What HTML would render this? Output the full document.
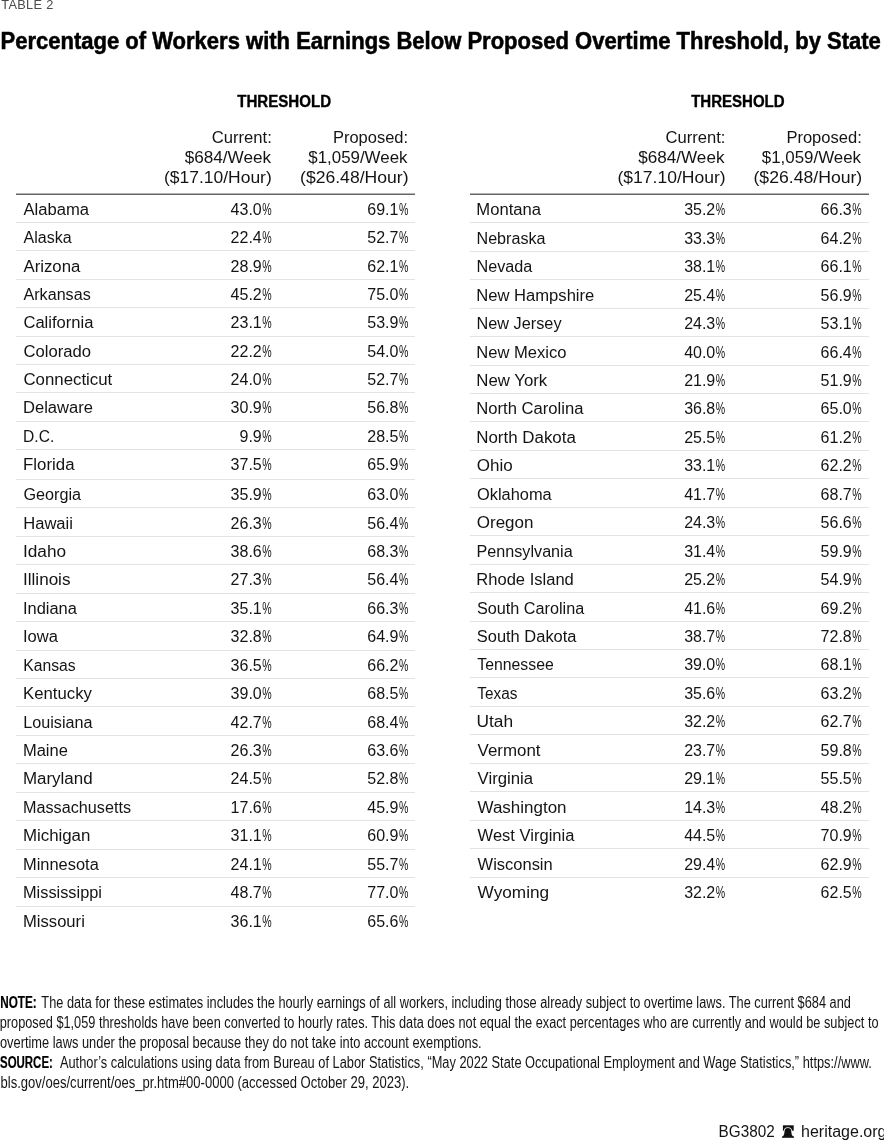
<!DOCTYPE html>
<html lang="en">
<head>
<meta charset="utf-8">
<title>Table 2: Percentage of Workers with Earnings Below Proposed Overtime Threshold, by State</title>
<style>
html,body{margin:0;padding:0;background:#fff}
body{width:884px;height:1140px;position:relative;overflow:hidden;font-family:"Liberation Sans",Arial,sans-serif;color:#141414}
.t{position:absolute;white-space:nowrap;line-height:1;margin:0;padding:0;font-weight:400}
.l{transform-origin:0 0}
.r{transform-origin:100% 0}
.title{-webkit-text-stroke:.55px #000}
.th{-webkit-text-stroke:.35px #000}
.nb{-webkit-text-stroke:.2px #000}
.nm i{font-style:normal;display:inline-block;transform:scaleX(.66);transform-origin:100% 50%;margin-left:-4.6px}
.hr{position:absolute;height:2px;background:linear-gradient(to bottom,#b2b2b2 0,#b2b2b2 50%,#646464 50%,#646464 100%)}
.rl{position:absolute;height:1px;background:#e3e3e3}

</style>
</head>
<body>
<div class="hr" style="left:16.0px;top:193px;width:399.0px"></div>
<div class="rl" style="left:16.0px;top:221.98px;width:399.0px"></div>
<div class="rl" style="left:16.0px;top:250.36px;width:399.0px"></div>
<div class="rl" style="left:16.0px;top:278.74px;width:399.0px"></div>
<div class="rl" style="left:16.0px;top:307.12px;width:399.0px"></div>
<div class="rl" style="left:16.0px;top:335.50px;width:399.0px"></div>
<div class="rl" style="left:16.0px;top:363.88px;width:399.0px"></div>
<div class="rl" style="left:16.0px;top:392.26px;width:399.0px"></div>
<div class="rl" style="left:16.0px;top:420.64px;width:399.0px"></div>
<div class="rl" style="left:16.0px;top:449.02px;width:399.0px"></div>
<div class="rl" style="left:16.0px;top:478.90px;width:399.0px"></div>
<div class="rl" style="left:16.0px;top:507.34px;width:399.0px"></div>
<div class="rl" style="left:16.0px;top:535.78px;width:399.0px"></div>
<div class="rl" style="left:16.0px;top:564.22px;width:399.0px"></div>
<div class="rl" style="left:16.0px;top:592.66px;width:399.0px"></div>
<div class="rl" style="left:16.0px;top:621.10px;width:399.0px"></div>
<div class="rl" style="left:16.0px;top:649.54px;width:399.0px"></div>
<div class="rl" style="left:16.0px;top:677.98px;width:399.0px"></div>
<div class="rl" style="left:16.0px;top:706.42px;width:399.0px"></div>
<div class="rl" style="left:16.0px;top:734.86px;width:399.0px"></div>
<div class="rl" style="left:16.0px;top:763.30px;width:399.0px"></div>
<div class="rl" style="left:16.0px;top:791.74px;width:399.0px"></div>
<div class="rl" style="left:16.0px;top:820.18px;width:399.0px"></div>
<div class="rl" style="left:16.0px;top:848.62px;width:399.0px"></div>
<div class="rl" style="left:16.0px;top:877.06px;width:399.0px"></div>
<div class="rl" style="left:16.0px;top:905.50px;width:399.0px"></div>
<div class="hr" style="left:469.8px;top:193px;width:398.8px"></div>
<div class="rl" style="left:469.8px;top:222.25px;width:398.8px"></div>
<div class="rl" style="left:469.8px;top:250.70px;width:398.8px"></div>
<div class="rl" style="left:469.8px;top:279.15px;width:398.8px"></div>
<div class="rl" style="left:469.8px;top:307.60px;width:398.8px"></div>
<div class="rl" style="left:469.8px;top:336.05px;width:398.8px"></div>
<div class="rl" style="left:469.8px;top:364.50px;width:398.8px"></div>
<div class="rl" style="left:469.8px;top:392.95px;width:398.8px"></div>
<div class="rl" style="left:469.8px;top:421.40px;width:398.8px"></div>
<div class="rl" style="left:469.8px;top:449.85px;width:398.8px"></div>
<div class="rl" style="left:469.8px;top:478.30px;width:398.8px"></div>
<div class="rl" style="left:469.8px;top:506.75px;width:398.8px"></div>
<div class="rl" style="left:469.8px;top:535.20px;width:398.8px"></div>
<div class="rl" style="left:469.8px;top:563.65px;width:398.8px"></div>
<div class="rl" style="left:469.8px;top:592.10px;width:398.8px"></div>
<div class="rl" style="left:469.8px;top:620.55px;width:398.8px"></div>
<div class="rl" style="left:469.8px;top:649.00px;width:398.8px"></div>
<div class="rl" style="left:469.8px;top:677.45px;width:398.8px"></div>
<div class="rl" style="left:469.8px;top:705.90px;width:398.8px"></div>
<div class="rl" style="left:469.8px;top:734.35px;width:398.8px"></div>
<div class="rl" style="left:469.8px;top:762.80px;width:398.8px"></div>
<div class="rl" style="left:469.8px;top:791.25px;width:398.8px"></div>
<div class="rl" style="left:469.8px;top:819.70px;width:398.8px"></div>
<div class="rl" style="left:469.8px;top:848.15px;width:398.8px"></div>
<div class="rl" style="left:469.8px;top:876.60px;width:398.8px"></div>
<div class="t kicker l" style="top:-2px;font-size:13px;color:#4a4a4a;letter-spacing:0.3px;left:1px;transform:translateX(0.35px) scaleX(0.9816);">TABLE 2</div>
<div class="t title l" style="top:29px;font-size:24px;font-weight:700;color:#000;left:0px;transform:translateX(0.51px) scaleX(0.9172);">Percentage of Workers with Earnings Below Proposed Overtime Threshold, by State</div>
<div class="t th l" style="top:94px;font-size:16px;font-weight:700;color:#000;left:237px;transform:translateX(0.18px) scaleX(0.9428);">THRESHOLD</div>
<div class="t ch r" style="top:130px;font-size:16px;right:613px;transform:translateX(0.95px) scaleX(1.0393);">Current:</div>
<div class="t ch r" style="top:150px;font-size:16px;right:613px;transform:translateX(0.42px) scaleX(1.0710);">$684/Week</div>
<div class="t ch r" style="top:170px;font-size:16px;right:612px;transform:translateX(0.03px) scaleX(1.0913);">($17.10/Hour)</div>
<div class="t ch r" style="top:130px;font-size:16px;right:476px;transform:translateX(0.09px) scaleX(1.0291);">Proposed:</div>
<div class="t ch r" style="top:150px;font-size:16px;right:477px;transform:translateX(0.47px) scaleX(1.0550);">$1,059/Week</div>
<div class="t ch r" style="top:170px;font-size:16px;right:476px;transform:translateX(0.80px) scaleX(1.0987);">($26.48/Hour)</div>
<div class="t st l" style="top:202px;font-size:16px;left:23px;transform:translateX(0.50px) scaleX(1.0382);">Alabama</div>
<div class="t nm r" style="top:202px;font-size:16px;right:613px;transform:translateX(0.37px);">43.0<i>%</i></div>
<div class="t nm r" style="top:202px;font-size:16px;right:476px;transform:translateX(0.09px);">69.1<i>%</i></div>
<div class="t st l" style="top:230px;font-size:16px;left:23px;transform:translateX(0.50px) scaleX(1.0013);">Alaska</div>
<div class="t nm r" style="top:230px;font-size:16px;right:613px;transform:translateX(0.37px);">22.4<i>%</i></div>
<div class="t nm r" style="top:230px;font-size:16px;right:476px;transform:translateX(0.09px);">52.7<i>%</i></div>
<div class="t st l" style="top:259px;font-size:16px;left:23px;transform:translateX(0.50px) scaleX(1.0477);">Arizona</div>
<div class="t nm r" style="top:259px;font-size:16px;right:613px;transform:translateX(0.37px);">28.9<i>%</i></div>
<div class="t nm r" style="top:259px;font-size:16px;right:476px;transform:translateX(0.09px);">62.1<i>%</i></div>
<div class="t st l" style="top:287px;font-size:16px;left:23px;transform:translateX(0.50px) scaleX(1.0074);">Arkansas</div>
<div class="t nm r" style="top:287px;font-size:16px;right:613px;transform:translateX(0.37px);">45.2<i>%</i></div>
<div class="t nm r" style="top:287px;font-size:16px;right:476px;transform:translateX(0.09px);">75.0<i>%</i></div>
<div class="t st l" style="top:315px;font-size:16px;left:23px;transform:translateX(0.41px) scaleX(1.0365);">California</div>
<div class="t nm r" style="top:315px;font-size:16px;right:613px;transform:translateX(0.37px);">23.1<i>%</i></div>
<div class="t nm r" style="top:315px;font-size:16px;right:476px;transform:translateX(0.09px);">53.9<i>%</i></div>
<div class="t st l" style="top:344px;font-size:16px;left:23px;transform:translateX(0.46px) scaleX(1.0398);">Colorado</div>
<div class="t nm r" style="top:344px;font-size:16px;right:613px;transform:translateX(0.37px);">22.2<i>%</i></div>
<div class="t nm r" style="top:344px;font-size:16px;right:476px;transform:translateX(0.09px);">54.0<i>%</i></div>
<div class="t st l" style="top:372px;font-size:16px;left:23px;transform:translateX(0.45px) scaleX(1.0515);">Connecticut</div>
<div class="t nm r" style="top:372px;font-size:16px;right:613px;transform:translateX(0.37px);">24.0<i>%</i></div>
<div class="t nm r" style="top:372px;font-size:16px;right:476px;transform:translateX(0.09px);">52.7<i>%</i></div>
<div class="t st l" style="top:400px;font-size:16px;left:22px;transform:translateX(0.98px) scaleX(1.0354);">Delaware</div>
<div class="t nm r" style="top:400px;font-size:16px;right:613px;transform:translateX(0.37px);">30.9<i>%</i></div>
<div class="t nm r" style="top:400px;font-size:16px;right:476px;transform:translateX(0.09px);">56.8<i>%</i></div>
<div class="t st l" style="top:429px;font-size:16px;left:23px;transform:translateX(0.06px) scaleX(0.9734);">D.C.</div>
<div class="t nm r" style="top:429px;font-size:16px;right:613px;transform:translateX(0.37px);">9.9<i>%</i></div>
<div class="t nm r" style="top:429px;font-size:16px;right:476px;transform:translateX(0.09px);">28.5<i>%</i></div>
<div class="t st l" style="top:457px;font-size:16px;left:23px;transform:translateX(0.09px) scaleX(1.0510);">Florida</div>
<div class="t nm r" style="top:457px;font-size:16px;right:613px;transform:translateX(0.37px);">37.5<i>%</i></div>
<div class="t nm r" style="top:457px;font-size:16px;right:476px;transform:translateX(0.09px);">65.9<i>%</i></div>
<div class="t st l" style="top:487px;font-size:16px;left:23px;transform:translateX(0.48px) scaleX(1.0115);">Georgia</div>
<div class="t nm r" style="top:487px;font-size:16px;right:613px;transform:translateX(0.37px);">35.9<i>%</i></div>
<div class="t nm r" style="top:487px;font-size:16px;right:476px;transform:translateX(0.09px);">63.0<i>%</i></div>
<div class="t st l" style="top:516px;font-size:16px;left:23px;transform:translateX(0.25px) scaleX(1.0348);">Hawaii</div>
<div class="t nm r" style="top:516px;font-size:16px;right:613px;transform:translateX(0.37px);">26.3<i>%</i></div>
<div class="t nm r" style="top:516px;font-size:16px;right:476px;transform:translateX(0.09px);">56.4<i>%</i></div>
<div class="t st l" style="top:544px;font-size:16px;left:22px;transform:translateX(0.98px) scaleX(1.0761);">Idaho</div>
<div class="t nm r" style="top:544px;font-size:16px;right:613px;transform:translateX(0.37px);">38.6<i>%</i></div>
<div class="t nm r" style="top:544px;font-size:16px;right:476px;transform:translateX(0.09px);">68.3<i>%</i></div>
<div class="t st l" style="top:572px;font-size:16px;left:23px;transform:translateX(0.01px) scaleX(1.0671);">Illinois</div>
<div class="t nm r" style="top:572px;font-size:16px;right:613px;transform:translateX(0.37px);">27.3<i>%</i></div>
<div class="t nm r" style="top:572px;font-size:16px;right:476px;transform:translateX(0.09px);">56.4<i>%</i></div>
<div class="t st l" style="top:601px;font-size:16px;left:22px;transform:translateX(0.97px) scaleX(1.0274);">Indiana</div>
<div class="t nm r" style="top:601px;font-size:16px;right:613px;transform:translateX(0.37px);">35.1<i>%</i></div>
<div class="t nm r" style="top:601px;font-size:16px;right:476px;transform:translateX(0.09px);">66.3<i>%</i></div>
<div class="t st l" style="top:629px;font-size:16px;left:22px;transform:translateX(0.95px) scaleX(1.0344);">Iowa</div>
<div class="t nm r" style="top:629px;font-size:16px;right:613px;transform:translateX(0.37px);">32.8<i>%</i></div>
<div class="t nm r" style="top:629px;font-size:16px;right:476px;transform:translateX(0.09px);">64.9<i>%</i></div>
<div class="t st l" style="top:658px;font-size:16px;left:23px;transform:translateX(0.31px) scaleX(0.9810);">Kansas</div>
<div class="t nm r" style="top:658px;font-size:16px;right:613px;transform:translateX(0.37px);">36.5<i>%</i></div>
<div class="t nm r" style="top:658px;font-size:16px;right:476px;transform:translateX(0.09px);">66.2<i>%</i></div>
<div class="t st l" style="top:686px;font-size:16px;left:23px;transform:translateX(0.12px) scaleX(1.0451);">Kentucky</div>
<div class="t nm r" style="top:686px;font-size:16px;right:613px;transform:translateX(0.37px);">39.0<i>%</i></div>
<div class="t nm r" style="top:686px;font-size:16px;right:476px;transform:translateX(0.09px);">68.5<i>%</i></div>
<div class="t st l" style="top:715px;font-size:16px;left:23px;transform:translateX(0.23px) scaleX(1.0109);">Louisiana</div>
<div class="t nm r" style="top:715px;font-size:16px;right:613px;transform:translateX(0.37px);">42.7<i>%</i></div>
<div class="t nm r" style="top:715px;font-size:16px;right:476px;transform:translateX(0.09px);">68.4<i>%</i></div>
<div class="t st l" style="top:743px;font-size:16px;left:22px;transform:translateX(0.93px) scaleX(1.0320);">Maine</div>
<div class="t nm r" style="top:743px;font-size:16px;right:613px;transform:translateX(0.37px);">26.3<i>%</i></div>
<div class="t nm r" style="top:743px;font-size:16px;right:476px;transform:translateX(0.09px);">63.6<i>%</i></div>
<div class="t st l" style="top:771px;font-size:16px;left:22px;transform:translateX(0.90px) scaleX(1.0586);">Maryland</div>
<div class="t nm r" style="top:771px;font-size:16px;right:613px;transform:translateX(0.37px);">24.5<i>%</i></div>
<div class="t nm r" style="top:771px;font-size:16px;right:476px;transform:translateX(0.09px);">52.8<i>%</i></div>
<div class="t st l" style="top:800px;font-size:16px;left:23px;transform:translateX(0.01px) scaleX(1.0118);">Massachusetts</div>
<div class="t nm r" style="top:800px;font-size:16px;right:613px;transform:translateX(0.37px);">17.6<i>%</i></div>
<div class="t nm r" style="top:800px;font-size:16px;right:476px;transform:translateX(0.09px);">45.9<i>%</i></div>
<div class="t st l" style="top:828px;font-size:16px;left:22px;transform:translateX(0.91px) scaleX(1.0536);">Michigan</div>
<div class="t nm r" style="top:828px;font-size:16px;right:613px;transform:translateX(0.37px);">31.1<i>%</i></div>
<div class="t nm r" style="top:828px;font-size:16px;right:476px;transform:translateX(0.09px);">60.9<i>%</i></div>
<div class="t st l" style="top:857px;font-size:16px;left:22px;transform:translateX(0.98px) scaleX(1.0267);">Minnesota</div>
<div class="t nm r" style="top:857px;font-size:16px;right:613px;transform:translateX(0.37px);">24.1<i>%</i></div>
<div class="t nm r" style="top:857px;font-size:16px;right:476px;transform:translateX(0.09px);">55.7<i>%</i></div>
<div class="t st l" style="top:885px;font-size:16px;left:22px;transform:translateX(0.99px) scaleX(1.0206);">Mississippi</div>
<div class="t nm r" style="top:885px;font-size:16px;right:613px;transform:translateX(0.37px);">48.7<i>%</i></div>
<div class="t nm r" style="top:885px;font-size:16px;right:476px;transform:translateX(0.09px);">77.0<i>%</i></div>
<div class="t st l" style="top:914px;font-size:16px;left:22px;transform:translateX(0.99px) scaleX(1.0382);">Missouri</div>
<div class="t nm r" style="top:914px;font-size:16px;right:613px;transform:translateX(0.37px);">36.1<i>%</i></div>
<div class="t nm r" style="top:914px;font-size:16px;right:476px;transform:translateX(0.09px);">65.6<i>%</i></div>
<div class="t th l" style="top:94px;font-size:16px;font-weight:700;color:#000;left:691px;transform:translateX(0.19px) scaleX(0.9383);">THRESHOLD</div>
<div class="t ch r" style="top:130px;font-size:16px;right:159px;transform:translateX(0.64px) scaleX(1.0369);">Current:</div>
<div class="t ch r" style="top:150px;font-size:16px;right:160px;transform:translateX(0.80px) scaleX(1.0694);">$684/Week</div>
<div class="t ch r" style="top:170px;font-size:16px;right:159px;transform:translateX(0.91px) scaleX(1.0955);">($17.10/Hour)</div>
<div class="t ch r" style="top:130px;font-size:16px;right:23px;transform:translateX(0.81px) scaleX(1.0332);">Proposed:</div>
<div class="t ch r" style="top:150px;font-size:16px;right:23px;transform:translateX(0.05px) scaleX(1.0562);">$1,059/Week</div>
<div class="t ch r" style="top:170px;font-size:16px;right:22px;transform:translateX(0.52px) scaleX(1.1017);">($26.48/Hour)</div>
<div class="t st l" style="top:202px;font-size:16px;left:476px;transform:translateX(0.29px) scaleX(1.0390);">Montana</div>
<div class="t nm r" style="top:202px;font-size:16px;right:160px;transform:translateX(0.91px);">35.2<i>%</i></div>
<div class="t nm r" style="top:202px;font-size:16px;right:23px;transform:translateX(0.37px);">66.3<i>%</i></div>
<div class="t st l" style="top:231px;font-size:16px;left:476px;transform:translateX(0.53px) scaleX(1.0066);">Nebraska</div>
<div class="t nm r" style="top:231px;font-size:16px;right:160px;transform:translateX(0.91px);">33.3<i>%</i></div>
<div class="t nm r" style="top:231px;font-size:16px;right:23px;transform:translateX(0.37px);">64.2<i>%</i></div>
<div class="t st l" style="top:259px;font-size:16px;left:476px;transform:translateX(0.52px) scaleX(1.0111);">Nevada</div>
<div class="t nm r" style="top:259px;font-size:16px;right:160px;transform:translateX(0.91px);">38.1<i>%</i></div>
<div class="t nm r" style="top:259px;font-size:16px;right:23px;transform:translateX(0.37px);">66.1<i>%</i></div>
<div class="t st l" style="top:288px;font-size:16px;left:476px;transform:translateX(0.28px) scaleX(1.0370);">New Hampshire</div>
<div class="t nm r" style="top:288px;font-size:16px;right:160px;transform:translateX(0.91px);">25.4<i>%</i></div>
<div class="t nm r" style="top:288px;font-size:16px;right:23px;transform:translateX(0.37px);">56.9<i>%</i></div>
<div class="t st l" style="top:316px;font-size:16px;left:476px;transform:translateX(0.54px) scaleX(1.0169);">New Jersey</div>
<div class="t nm r" style="top:316px;font-size:16px;right:160px;transform:translateX(0.91px);">24.3<i>%</i></div>
<div class="t nm r" style="top:316px;font-size:16px;right:23px;transform:translateX(0.37px);">53.1<i>%</i></div>
<div class="t st l" style="top:345px;font-size:16px;left:476px;transform:translateX(0.29px) scaleX(1.0358);">New Mexico</div>
<div class="t nm r" style="top:345px;font-size:16px;right:160px;transform:translateX(0.91px);">40.0<i>%</i></div>
<div class="t nm r" style="top:345px;font-size:16px;right:23px;transform:translateX(0.37px);">66.4<i>%</i></div>
<div class="t st l" style="top:373px;font-size:16px;left:476px;transform:translateX(0.27px) scaleX(1.0504);">New York</div>
<div class="t nm r" style="top:373px;font-size:16px;right:160px;transform:translateX(0.91px);">21.9<i>%</i></div>
<div class="t nm r" style="top:373px;font-size:16px;right:23px;transform:translateX(0.37px);">51.9<i>%</i></div>
<div class="t st l" style="top:401px;font-size:16px;left:476px;transform:translateX(0.29px) scaleX(1.0391);">North Carolina</div>
<div class="t nm r" style="top:401px;font-size:16px;right:160px;transform:translateX(0.91px);">36.8<i>%</i></div>
<div class="t nm r" style="top:401px;font-size:16px;right:23px;transform:translateX(0.37px);">65.0<i>%</i></div>
<div class="t st l" style="top:430px;font-size:16px;left:476px;transform:translateX(0.23px) scaleX(1.0569);">North Dakota</div>
<div class="t nm r" style="top:430px;font-size:16px;right:160px;transform:translateX(0.91px);">25.5<i>%</i></div>
<div class="t nm r" style="top:430px;font-size:16px;right:23px;transform:translateX(0.37px);">61.2<i>%</i></div>
<div class="t st l" style="top:458px;font-size:16px;left:476px;transform:translateX(0.77px) scaleX(1.0623);">Ohio</div>
<div class="t nm r" style="top:458px;font-size:16px;right:160px;transform:translateX(0.91px);">33.1<i>%</i></div>
<div class="t nm r" style="top:458px;font-size:16px;right:23px;transform:translateX(0.37px);">62.2<i>%</i></div>
<div class="t st l" style="top:487px;font-size:16px;left:477px;transform:translateX(0.01px) scaleX(1.0243);">Oklahoma</div>
<div class="t nm r" style="top:487px;font-size:16px;right:160px;transform:translateX(0.91px);">41.7<i>%</i></div>
<div class="t nm r" style="top:487px;font-size:16px;right:23px;transform:translateX(0.37px);">68.7<i>%</i></div>
<div class="t st l" style="top:515px;font-size:16px;left:476px;transform:translateX(0.78px) scaleX(1.0624);">Oregon</div>
<div class="t nm r" style="top:515px;font-size:16px;right:160px;transform:translateX(0.91px);">24.3<i>%</i></div>
<div class="t nm r" style="top:515px;font-size:16px;right:23px;transform:translateX(0.37px);">56.6<i>%</i></div>
<div class="t st l" style="top:544px;font-size:16px;left:476px;transform:translateX(0.52px) scaleX(1.0106);">Pennsylvania</div>
<div class="t nm r" style="top:544px;font-size:16px;right:160px;transform:translateX(0.91px);">31.4<i>%</i></div>
<div class="t nm r" style="top:544px;font-size:16px;right:23px;transform:translateX(0.37px);">59.9<i>%</i></div>
<div class="t st l" style="top:572px;font-size:16px;left:476px;transform:translateX(0.29px) scaleX(1.0342);">Rhode Island</div>
<div class="t nm r" style="top:572px;font-size:16px;right:160px;transform:translateX(0.91px);">25.2<i>%</i></div>
<div class="t nm r" style="top:572px;font-size:16px;right:23px;transform:translateX(0.37px);">54.9<i>%</i></div>
<div class="t st l" style="top:601px;font-size:16px;left:476px;transform:translateX(0.88px) scaleX(1.0140);">South Carolina</div>
<div class="t nm r" style="top:601px;font-size:16px;right:160px;transform:translateX(0.91px);">41.6<i>%</i></div>
<div class="t nm r" style="top:601px;font-size:16px;right:23px;transform:translateX(0.37px);">69.2<i>%</i></div>
<div class="t st l" style="top:629px;font-size:16px;left:476px;transform:translateX(0.77px) scaleX(1.0285);">South Dakota</div>
<div class="t nm r" style="top:629px;font-size:16px;right:160px;transform:translateX(0.91px);">38.7<i>%</i></div>
<div class="t nm r" style="top:629px;font-size:16px;right:23px;transform:translateX(0.37px);">72.8<i>%</i></div>
<div class="t st l" style="top:657px;font-size:16px;left:477px;transform:translateX(0.29px) scaleX(0.9882);">Tennessee</div>
<div class="t nm r" style="top:657px;font-size:16px;right:160px;transform:translateX(0.91px);">39.0<i>%</i></div>
<div class="t nm r" style="top:657px;font-size:16px;right:23px;transform:translateX(0.37px);">68.1<i>%</i></div>
<div class="t st l" style="top:686px;font-size:16px;left:477px;transform:translateX(0.30px) scaleX(0.9594);">Texas</div>
<div class="t nm r" style="top:686px;font-size:16px;right:160px;transform:translateX(0.91px);">35.6<i>%</i></div>
<div class="t nm r" style="top:686px;font-size:16px;right:23px;transform:translateX(0.37px);">63.2<i>%</i></div>
<div class="t st l" style="top:714px;font-size:16px;left:476px;transform:translateX(0.51px) scaleX(1.0830);">Utah</div>
<div class="t nm r" style="top:714px;font-size:16px;right:160px;transform:translateX(0.91px);">32.2<i>%</i></div>
<div class="t nm r" style="top:714px;font-size:16px;right:23px;transform:translateX(0.37px);">62.7<i>%</i></div>
<div class="t st l" style="top:743px;font-size:16px;left:477px;transform:translateX(0.56px) scaleX(1.0560);">Vermont</div>
<div class="t nm r" style="top:743px;font-size:16px;right:160px;transform:translateX(0.91px);">23.7<i>%</i></div>
<div class="t nm r" style="top:743px;font-size:16px;right:23px;transform:translateX(0.37px);">59.8<i>%</i></div>
<div class="t st l" style="top:771px;font-size:16px;left:477px;transform:translateX(0.57px) scaleX(1.0472);">Virginia</div>
<div class="t nm r" style="top:771px;font-size:16px;right:160px;transform:translateX(0.91px);">29.1<i>%</i></div>
<div class="t nm r" style="top:771px;font-size:16px;right:23px;transform:translateX(0.37px);">55.5<i>%</i></div>
<div class="t st l" style="top:800px;font-size:16px;left:477px;transform:translateX(0.53px) scaleX(1.0605);">Washington</div>
<div class="t nm r" style="top:800px;font-size:16px;right:160px;transform:translateX(0.91px);">14.3<i>%</i></div>
<div class="t nm r" style="top:800px;font-size:16px;right:23px;transform:translateX(0.37px);">48.2<i>%</i></div>
<div class="t st l" style="top:828px;font-size:16px;left:477px;transform:translateX(0.62px) scaleX(1.0327);">West Virginia</div>
<div class="t nm r" style="top:828px;font-size:16px;right:160px;transform:translateX(0.91px);">44.5<i>%</i></div>
<div class="t nm r" style="top:828px;font-size:16px;right:23px;transform:translateX(0.37px);">70.9<i>%</i></div>
<div class="t st l" style="top:857px;font-size:16px;left:477px;transform:translateX(0.62px) scaleX(1.0298);">Wisconsin</div>
<div class="t nm r" style="top:857px;font-size:16px;right:160px;transform:translateX(0.91px);">29.4<i>%</i></div>
<div class="t nm r" style="top:857px;font-size:16px;right:23px;transform:translateX(0.37px);">62.9<i>%</i></div>
<div class="t st l" style="top:885px;font-size:16px;left:477px;transform:translateX(0.61px) scaleX(1.0744);">Wyoming</div>
<div class="t nm r" style="top:885px;font-size:16px;right:160px;transform:translateX(0.91px);">32.2<i>%</i></div>
<div class="t nm r" style="top:885px;font-size:16px;right:23px;transform:translateX(0.37px);">62.5<i>%</i></div>
<div class="t nb l" style="top:995px;font-size:15.6px;font-weight:700;color:#000;left:0px;transform:translateX(0.19px) scaleX(0.7531);">NOTE:</div>
<div class="t nt l" style="top:995px;font-size:15.6px;left:41px;transform:translateX(0.37px) scaleX(0.8187);">The data for these estimates includes the hourly earnings of all workers, including those already subject to overtime laws. The current $684 and</div>
<div class="t nt l" style="top:1015px;font-size:15.6px;left:-1px;transform:translateX(0.71px) scaleX(0.8171);">proposed $1,059 thresholds have been converted to hourly rates. This data does not equal the exact percentages who are currently and would be subject to</div>
<div class="t nt l" style="top:1035px;font-size:15.6px;left:-1px;transform:translateX(0.93px) scaleX(0.8233);">overtime laws under the proposal because they do not take into account exemptions.</div>
<div class="t nb l" style="top:1055px;font-size:15.6px;font-weight:700;color:#000;left:0px;transform:translateX(0.05px) scaleX(0.7341);">SOURCE:</div>
<div class="t nt l" style="top:1055px;font-size:15.6px;left:59px;transform:translateX(0.90px) scaleX(0.8227);">Author’s calculations using data from Bureau of Labor Statistics, “May 2022 State Occupational Employment and Wage Statistics,” https://www.</div>
<div class="t nt l" style="top:1075px;font-size:15.6px;left:0px;transform:translateX(0.56px) scaleX(0.8359);">bls.gov/oes/current/oes_pr.htm#00-0000 (accessed October 29, 2023).</div>
<div class="t ft l" style="top:1124px;font-size:16px;left:718px;transform:translateX(0.59px) scaleX(0.9551);">BG3802</div>
<div class="t ft l" style="top:1124px;font-size:16px;left:801px;transform:translateX(0.07px);">heritage.org</div>
<svg style="position:absolute;left:780px;top:1124px" width="16" height="16" viewBox="780 1124 16 16" role="img" aria-label="Heritage bell"><rect x="782.9" y="1125.3" width="10.8" height="5.4" fill="#111"/><path d="M782 1137.600V1136.900C783.300 1136.200 784.100 1135 784.300 1133.200L784.600 1131A3.300 2.900 0 0 1 791.200 1131L791.500 1133.200C791.700 1135 792.500 1136.200 794 1136.900V1137.600Z" fill="#111" stroke="#fff" stroke-width="1.5" paint-order="stroke fill"/><rect x="782" y="1136.600" width="12" height="1" fill="#111"/></svg>
</body>
</html>
